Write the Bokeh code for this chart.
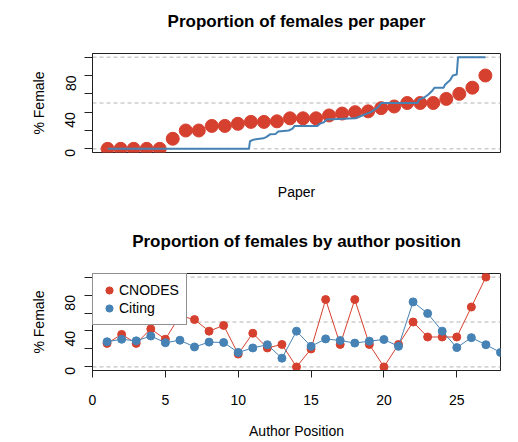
from bokeh.plotting import figure
from bokeh.layouts import column
from bokeh.models import FixedTicker, Span, Legend, LegendItem, Range1d, LinearAxis
from bokeh.embed import file_html
from bokeh.resources import INLINE
import math

FONT = "Liberation Sans"
RED = "#D6402F"
BLUE = "#4682B4"
GRID = "#B4B4B4"

# ---- data: proportion of females per paper (sorted) ----
paper_idx = list(range(1, 31))
paper_pct = [0, 0, 0, 0, 0, 11, 20, 20, 25, 25, 27.3, 29.4, 29.4, 30, 33.3,
             33.3, 33.3, 36.4, 38.5, 40, 40.9, 44.4, 46.2, 50, 50, 50, 54.5,
             60, 66.7, 80]

# citing papers, sorted share of females, on the same paper-rank scale
citing_rank = [1, 11.85, 11.93, 12.2, 12.96, 13.2, 13.5, 13.9, 14.1, 14.9, 15.2,
               15.35, 17.1, 17.3, 17.6, 17.8, 20.0, 20.2, 20.6, 21.0, 21.2, 21.5,
               21.8, 22.0, 24.8, 24.9, 25.3, 25.6, 25.9, 26.1, 26.8, 26.9, 27.3,
               27.5, 27.8, 27.9, 30]
citing_share = [0, 0, 8.3, 10, 11.5, 13, 16, 16.3, 19, 20, 22, 25, 25, 27.5, 29,
                32, 33.3, 34.4, 36.6, 39, 40, 42.7, 46, 50, 50, 53.6, 56, 59, 63,
                66.7, 66.7, 70, 75, 80, 81, 100, 100]

# ---- data: proportion of females by author position ----
cnodes_pos = list(range(1, 28))
cnodes_pct = [26.2, 36.2, 26.2, 42.3, 30.8, 57, 52.7, 39.8, 46.2, 14.3, 37.5,
              21.1, 25, 0, 20, 75, 25, 75, 25, 0, 25, 50, 33.3, 33.3, 33.3,
              66.7, 100]
citing_pos = list(range(1, 29))
citing_pct = [28, 30.8, 29, 34.4, 26.9, 29.7, 22.2, 27.6, 27.2, 16.1, 21.1, 24.7,
              9.7, 39.8, 22.9, 31.2, 29.4, 26.5, 28.7, 30.5, 22.9, 72.4, 59.5,
              39.8, 21.5, 32.6, 24.7, 16.1]

ref_levels = [0, 50, 100]
y_ticks = [0, 20, 40, 60, 80, 100]
y_hidden = {20: "", 60: "", 100: ""}
x_ticks = [0, 5, 10, 15, 20, 25]


def make_fig(title, height, top, bottom, x_range):
    p = figure(width=510, height=height, x_range=x_range, y_range=Range1d(-4, 104),
               output_backend="svg", toolbar_location=None,
               min_border_left=92, min_border_right=10,
               min_border_top=top, min_border_bottom=bottom)
    # main title, drawn as an unticked axis label above the frame
    ta = LinearAxis(ticker=FixedTicker(ticks=[]), axis_label=title,
                    axis_line_color=None, major_tick_line_color=None,
                    minor_tick_line_color=None, major_tick_out=0,
                    major_label_standoff=0, axis_label_standoff=23,
                    axis_label_text_font=FONT, axis_label_text_font_size="17px",
                    axis_label_text_font_style="bold",
                    axis_label_text_color="black")
    p.add_layout(ta, "above")
    p.grid.visible = False
    p.outline_line_color = "#222222"
    p.outline_line_width = 1
    p.outline_line_alpha = 1
    for v in ref_levels:
        p.add_layout(Span(location=v, dimension="width", line_color=GRID,
                          line_dash="4 3", line_width=1, level="underlay"))
    ya = p.yaxis[0]
    ya.ticker = FixedTicker(ticks=y_ticks)
    ya.major_label_overrides = y_hidden
    ya.major_label_orientation = math.pi / 2
    ya.major_tick_out = 8
    ya.major_tick_in = 0
    ya.minor_tick_line_color = None
    ya.major_label_standoff = 14
    ya.major_label_text_font = FONT
    ya.major_label_text_font_size = "14px"
    ya.major_label_text_color = "black"
    ya.axis_label = "% Female"
    ya.axis_label_text_font = FONT
    ya.axis_label_text_font_size = "14px"
    ya.axis_label_text_font_style = "normal"
    ya.axis_label_text_color = "black"
    ya.axis_label_standoff = 11
    ya.axis_line_color = "#222222"
    ya.major_tick_line_color = "#222222"
    xa = p.below[0]
    xa.axis_label_text_font = FONT
    xa.axis_label_text_font_size = "14px"
    xa.axis_label_text_font_style = "normal"
    xa.axis_label_text_color = "black"
    xa.major_label_text_font = FONT
    xa.major_label_text_font_size = "14px"
    xa.major_label_text_color = "black"
    xa.minor_tick_line_color = None
    return p


# ---- top panel ----
top = make_fig("Proportion of females per paper", 220, 53, 68, Range1d(-0.16, 31.16))
txa = top.below[0]
txa.ticker = FixedTicker(ticks=[])
txa.axis_line_color = None
txa.major_tick_line_color = None
txa.major_tick_out = 0
txa.major_label_standoff = 0
txa.axis_label = "Paper"
txa.axis_label_standoff = 31
top.scatter(paper_idx, paper_pct, size=13, color=RED, line_color=RED)
top.line(citing_rank, citing_share, line_width=2, color=BLUE)

# ---- bottom panel ----
bot = make_fig("Proportion of females by author position", 221, 53, 68, Range1d(0, 28))
bxa = bot.below[0]
bxa.ticker = FixedTicker(ticks=x_ticks)
bxa.major_tick_out = 7
bxa.major_tick_in = 0
bxa.major_label_standoff = 17
bxa.axis_label = "Author Position"
bxa.axis_label_standoff = 15
bxa.axis_line_color = "#222222"
bxa.major_tick_line_color = "#222222"

bot.line(cnodes_pos, cnodes_pct, color=RED, line_width=1)
r_red = bot.scatter(cnodes_pos, cnodes_pct, size=8, color=RED)
bot.line(citing_pos, citing_pct, color=BLUE, line_width=1)
r_blue = bot.scatter(citing_pos, citing_pct, size=8, color=BLUE)

legend = Legend(items=[LegendItem(label="CNODES", renderers=[r_red]),
                       LegendItem(label="Citing", renderers=[r_blue])],
                location="top_left", margin=0, padding=7, spacing=0,
                glyph_width=18, glyph_height=18, label_height=18,
                label_standoff=1, label_text_font=FONT,
                label_text_font_size="14px", label_text_color="black",
                border_line_color="#222222", border_line_width=1,
                background_fill_color="white", background_fill_alpha=1)
bot.add_layout(legend)

layout = column(top, bot, spacing=0)
open("out.html", "w").write(file_html(layout, INLINE))
